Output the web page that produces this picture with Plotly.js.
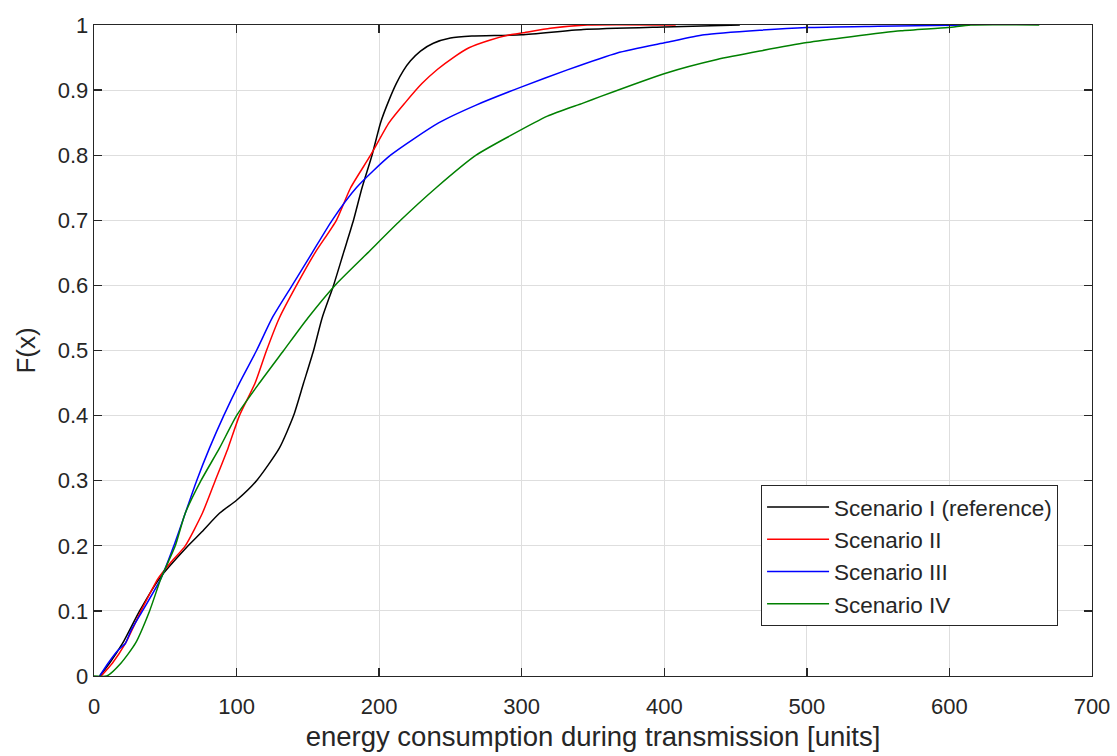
<!DOCTYPE html>
<html>
<head>
<meta charset="utf-8">
<script src="https://cdn.plot.ly/plotly-3.0.1.min.js"></script>
<style>html,body{margin:0;padding:0;background:#fff;}#chart{width:1117px;height:756px;}</style>
</head>
<body>
<div id="chart"></div>
<script>
// Scenario names
const seriesNames = ["Scenario I (reference)", "Scenario II", "Scenario III", "Scenario IV"];

// Scenario I (reference) – energy x and cumulative F(x)
const xI = [4, 11, 20, 32, 46, 66, 75, 88, 100, 114, 130, 140, 147, 154, 160, 168, 175, 182, 188, 195, 201, 207, 212, 217, 222, 229, 238, 250, 265, 300, 343, 400, 453];
const FI = [0, 0.02, 0.05, 0.1, 0.15, 0.2, 0.22, 0.25, 0.27, 0.3, 0.35, 0.4, 0.45, 0.5, 0.55, 0.6, 0.65, 0.7, 0.75, 0.8, 0.85, 0.885, 0.91, 0.93, 0.945, 0.96, 0.972, 0.98, 0.983, 0.985, 0.993, 0.997, 1];

// Scenario II
const xII = [5, 13, 22, 33, 45, 54, 64, 76, 85, 94, 102, 113, 121, 130, 142, 155, 170, 180, 194, 207, 218, 230, 241, 252, 263, 278, 292, 301, 320, 346, 408];
const FII = [0, 0.02, 0.05, 0.1, 0.15, 0.175, 0.2, 0.25, 0.3, 0.35, 0.4, 0.45, 0.5, 0.55, 0.6, 0.65, 0.7, 0.75, 0.8, 0.85, 0.88, 0.91, 0.932, 0.95, 0.965, 0.977, 0.985, 0.988, 0.995, 1, 1];

// Scenario III
const xIII = [4, 10, 17, 22, 26, 34, 47, 56, 64, 72, 81, 91, 102, 114, 125, 139, 153, 167, 184, 208, 242, 268, 300, 332, 367, 401, 428, 467, 500, 550, 614];
const FIII = [0, 0.02, 0.04, 0.05, 0.07, 0.1, 0.15, 0.2, 0.25, 0.3, 0.35, 0.4, 0.45, 0.5, 0.55, 0.6, 0.65, 0.7, 0.75, 0.8, 0.85, 0.877, 0.905, 0.931, 0.957, 0.973, 0.985, 0.992, 0.996, 0.998, 1];

// Scenario IV
const xIV = [0, 9, 19, 29, 39, 47, 57, 64, 75, 88, 100, 116, 133, 150, 169, 192, 215, 240, 268, 292, 318, 343, 355, 401, 437, 467, 500, 531, 566, 599, 615, 663];
const FIV = [0, 0, 0.02, 0.05, 0.1, 0.15, 0.2, 0.25, 0.3, 0.35, 0.4, 0.45, 0.5, 0.55, 0.6, 0.65, 0.7, 0.75, 0.8, 0.83, 0.86, 0.88, 0.89, 0.926, 0.947, 0.96, 0.973, 0.982, 0.991, 0.996, 1, 1];

const xTicks = [0, 100, 200, 300, 400, 500, 600, 700];
const yTicks = [0, 0.1, 0.2, 0.3, 0.4, 0.5, 0.6, 0.7, 0.8, 0.9, 1];

const colors = ["#000000", "#ff0000", "#0000ff", "#008000"];
const xs = [xI, xII, xIII, xIV];
const Fs = [FI, FII, FIII, FIV];

const traces = xs.map((x, i) => ({
  x: x, y: Fs[i], type: "scatter", mode: "lines", name: seriesNames[i],
  line: {color: colors[i], width: 1.5, shape: "spline", smoothing: 0.6}
}));

const font = "'Liberation Sans', Arial, Helvetica, sans-serif";
const axisCommon = {
  showline: true, mirror: "ticks", linecolor: "#262626", linewidth: 1.3,
  ticks: "inside", ticklen: 8, tickcolor: "#262626", tickwidth: 1.3,
  showgrid: true, gridcolor: "#dedede", gridwidth: 1, zeroline: false,
  tickfont: {family: font, size: 22, color: "#262626"}
};

const layout = {
  width: 1117, height: 756,
  margin: {l: 94, r: 25, t: 25, b: 80},
  paper_bgcolor: "#ffffff", plot_bgcolor: "#ffffff",
  showlegend: true,
  xaxis: Object.assign({}, axisCommon, {
    range: [0, 700], tickvals: xTicks, ticktext: xTicks.map(String),
    ticklabelstandoff: 10,
    title: {text: "energy consumption during transmission [units]", font: {family: font, size: 27.5, color: "#262626"}, standoff: 9}
  }),
  yaxis: Object.assign({}, axisCommon, {
    range: [0, 1], tickvals: yTicks, ticktext: yTicks.map(v => String(v)),
    title: {text: "F(x)", font: {family: font, size: 26, color: "#262626"}, standoff: 14}
  }),
  legend: {
    x: 0.966, y: 0.077, xanchor: "right", yanchor: "bottom",
    bgcolor: "#ffffff", bordercolor: "#262626", borderwidth: 1,
    font: {family: font, size: 22.5, color: "#262626"},
    itemwidth: 62, tracegroupgap: 0
  }
};

Plotly.newPlot("chart", traces, layout, {displayModeBar: false, staticPlot: true});
</script>
</body>
</html>
